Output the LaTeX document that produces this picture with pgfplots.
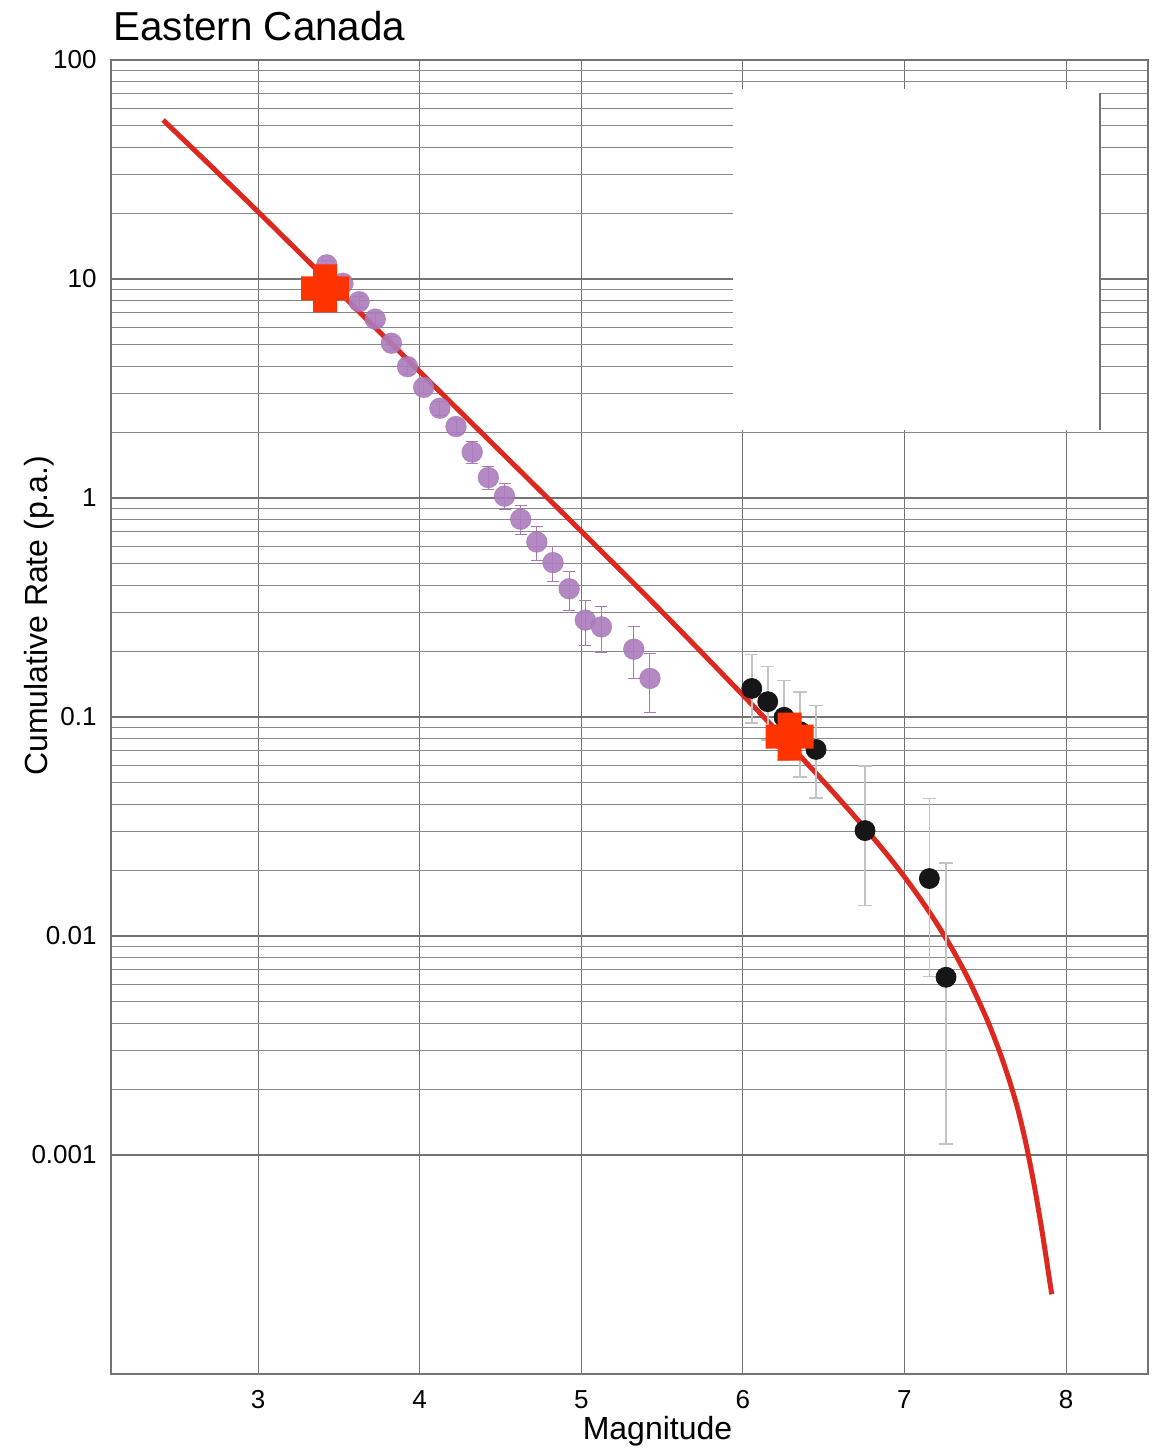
\documentclass[border=0pt]{standalone}
\usepackage{fontspec}
\setmainfont{Liberation Sans}
\usepackage{pgfplots}
\pgfplotsset{compat=1.18}
\definecolor{curvered}{RGB}{220,40,30}
\definecolor{crossred}{RGB}{255,51,0}
\definecolor{ptpurple}{RGB}{172,124,188}
\definecolor{errpurple}{RGB}{170,120,185}
\definecolor{ptblack}{RGB}{22,22,24}
\definecolor{errgray}{RGB}{195,195,195}
\definecolor{gridc}{RGB}{115,115,115}
\pgfdeclareplotmark{fatplus}{%
  \pgfpathmoveto{\pgfqpoint{-0.5\pgfplotmarksize}{\pgfplotmarksize}}%
  \pgfpathlineto{\pgfqpoint{0.5\pgfplotmarksize}{\pgfplotmarksize}}%
  \pgfpathlineto{\pgfqpoint{0.5\pgfplotmarksize}{0.5\pgfplotmarksize}}%
  \pgfpathlineto{\pgfqpoint{\pgfplotmarksize}{0.5\pgfplotmarksize}}%
  \pgfpathlineto{\pgfqpoint{\pgfplotmarksize}{-0.5\pgfplotmarksize}}%
  \pgfpathlineto{\pgfqpoint{0.5\pgfplotmarksize}{-0.5\pgfplotmarksize}}%
  \pgfpathlineto{\pgfqpoint{0.5\pgfplotmarksize}{-\pgfplotmarksize}}%
  \pgfpathlineto{\pgfqpoint{-0.5\pgfplotmarksize}{-\pgfplotmarksize}}%
  \pgfpathlineto{\pgfqpoint{-0.5\pgfplotmarksize}{-0.5\pgfplotmarksize}}%
  \pgfpathlineto{\pgfqpoint{-\pgfplotmarksize}{-0.5\pgfplotmarksize}}%
  \pgfpathlineto{\pgfqpoint{-\pgfplotmarksize}{0.5\pgfplotmarksize}}%
  \pgfpathlineto{\pgfqpoint{-0.5\pgfplotmarksize}{0.5\pgfplotmarksize}}%
  \pgfpathclose
  \pgfusepathqfill}
\begin{document}
\begin{tikzpicture}
\begin{axis}[
  scale only axis,
  width=518.5pt, height=657pt,
  ymode=log,
  xmin=2.09, xmax=8.507,
  ymin=0.0001, ymax=100,
  xtick={3,4,5,6,7,8},
  xticklabels={3,4,5,6,7,8},
  ytick={0.001,0.01,0.1,1,10,100},
  yticklabels={0.001,0.01,0.1,1,10,100},
  /pgf/number format/assume math mode=true,
  major tick length=0pt, minor tick length=0pt,
  xmajorgrids, ymajorgrids, yminorgrids,
  major grid style={draw=gridc, line width=0.55pt},
  minor grid style={draw=gridc!85, line width=0.5pt},
  axis line style={draw=gridc, line width=0.6pt},
  tick label style={font=\fontsize{13}{15}\selectfont, text=black},
  yticklabel style={inner sep=0pt, anchor=east, xshift=-7pt},
  xticklabel style={inner sep=0pt, anchor=north, yshift=-8pt},
  label style={font=\fontsize{16}{19}\selectfont},
  xlabel={Magnitude},
  xlabel style={at={(axis description cs:0.527,-0.0502)}, anchor=base},
  ylabel={Cumulative Rate (p.a.)},
  ylabel style={at={(axis description cs:-0.0617,0.577)}, anchor=base, rotate=0},
  clip=false,
]
\coordinate (SW) at (rel axis cs:0,0);
\coordinate (NE) at (rel axis cs:1,1);
% blank panel
\fill[white] (axis cs:5.94,73.8) rectangle (axis cs:8.21,2.04);
\draw[gridc, line width=0.6pt] (axis cs:8.21,70.7) -- (axis cs:8.21,2.04);
% fitted curve
\addplot[curvered, line width=2.5pt, smooth, no marks] coordinates {
(2.412,53.2) (3.0,20.28) (4.0,3.776) (5.0,0.7047) (5.5,0.3020)
(6.0,0.1259) (6.25,0.08035) (6.5,0.05070) (6.75,0.03144) (6.9,0.02317)
(7.0,0.01862) (7.1,0.01472) (7.2,0.01140) (7.3,0.008610) (7.4,0.006266)
(7.5,0.004335) (7.55,0.003524) (7.6,0.002805) (7.65,0.002178)
(7.7,0.001633) (7.75,0.001143) (7.8,0.0007464) (7.85,0.0004550)
(7.9,0.0002618) (7.911,0.0002312)
};
% purple points
\addplot[only marks, mark=*, mark size=5.2pt,
  mark options={fill=ptpurple, draw=ptpurple!85!black, line width=0.3pt, fill opacity=0.9, draw opacity=0.5},
  error bars/.cd, y dir=both, y explicit,
  error bar style={draw=errpurple, line width=0.5pt},
  error mark options={rotate=90, mark size=3pt, draw=errpurple, line width=0.5pt}]
coordinates {
(3.425,11.6) += (0,0.5) -= (0,0.5)
(3.525,9.56) += (0,0.5) -= (0,0.5)
(3.625,7.88) += (0,0.45) -= (0,0.45)
(3.725,6.56) += (0,0.4) -= (0,0.4)
(3.825,5.09) += (0,0.36) -= (0,0.35)
(3.925,3.98) += (0,0.3) -= (0,0.3)
(4.025,3.20) += (0,0.19) -= (0,0.21)
(4.125,2.57) += (0,0.18) -= (0,0.18)
(4.225,2.12) += (0,0.17) -= (0,0.17)
(4.325,1.62) += (0,0.19) -= (0,0.19)
(4.425,1.24) += (0,0.16) -= (0,0.15)
(4.525,1.02) += (0,0.15) -= (0,0.13)
(4.625,0.80) += (0,0.123) -= (0,0.122)
(4.725,0.63) += (0,0.11) -= (0,0.109)
(4.825,0.507) += (0,0.093) -= (0,0.092)
(4.925,0.385) += (0,0.079) -= (0,0.077)
(5.025,0.277) += (0,0.065) -= (0,0.066)
(5.125,0.258) += (0,0.063) -= (0,0.061)
(5.325,0.204) += (0,0.054) -= (0,0.054)
(5.425,0.150) += (0,0.046) -= (0,0.045)
};
% black points
\addplot[only marks, mark=*, mark size=5pt,
  mark options={fill=ptblack, draw=ptblack},
  error bars/.cd, y dir=both, y explicit,
  error bar style={draw=errgray, line width=0.8pt},
  error mark options={rotate=90, mark size=3.3pt, draw=errgray, line width=0.8pt}]
coordinates {
(6.055,0.135) += (0,0.058) -= (0,0.0414)
(6.154,0.1175) += (0,0.0525) -= (0,0.039)
(6.255,0.0997) += (0,0.0468) -= (0,0.036)
(6.354,0.0857) += (0,0.0443) -= (0,0.0325)
(6.453,0.0711) += (0,0.0416) -= (0,0.0284)
(6.756,0.0303) += (0,0.0294) -= (0,0.0165)
(7.154,0.0183) += (0,0.0242) -= (0,0.01178)
(7.257,0.00648) += (0,0.01502) -= (0,0.00536)
};
% red crosses
\addplot[only marks, mark=fatplus, mark size=12pt, color=crossred] coordinates {
(3.415,9.07) (6.29,0.0813)
};
\node[anchor=base west, inner sep=0pt, font=\fontsize{20.2}{24}\selectfont]
  at (axis description cs:0.002,1.0152) {Eastern Canada};
\end{axis}
\pgfresetboundingbox
\path ([shift={(-55.5pt,-38pt)}]SW) rectangle ([shift={(5pt,30pt)}]NE);
\end{tikzpicture}
\end{document}
